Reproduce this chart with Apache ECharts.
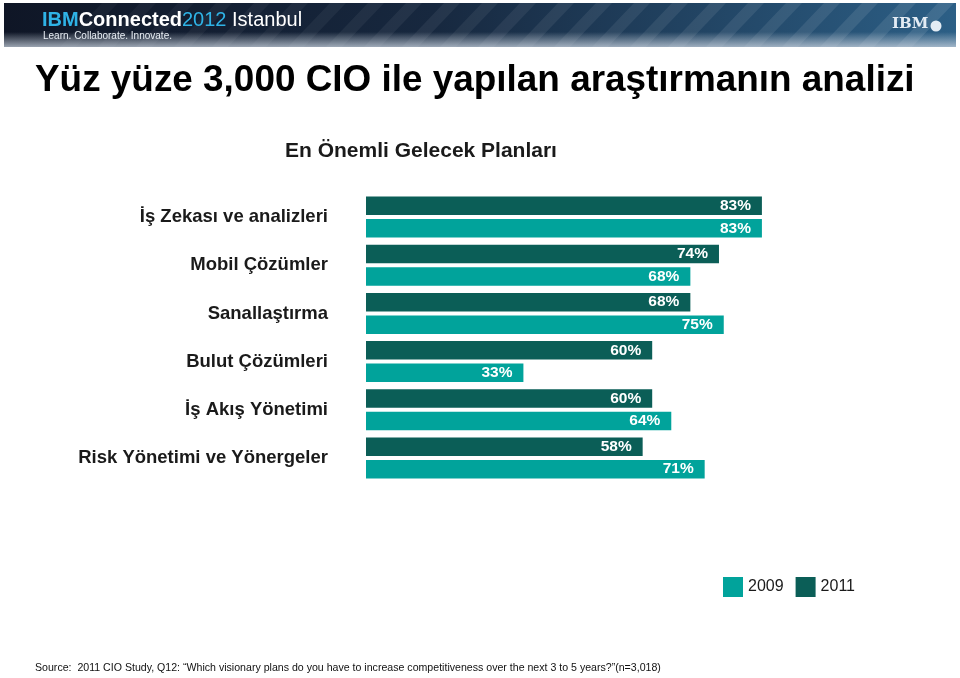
<!DOCTYPE html>
<html>
<head>
<meta charset="utf-8">
<script src="https://cdn.jsdelivr.net/npm/echarts@6/dist/echarts.min.js"></script>
<style>html,body{margin:0;padding:0;background:#fff}#c{width:960px;height:678px}</style>
</head>
<body>
<div id="c"></div>
<script>
const categories = ['İş Zekası ve analizleri','Mobil Çözümler','Sanallaştırma','Bulut Çözümleri','İş Akış Yönetimi','Risk Yönetimi ve Yönergeler'];
const values2011 = [83, 74, 68, 60, 60, 58];
const values2009 = [83, 68, 75, 33, 64, 71];
const legendItems = ['2009', '2011'];

const FONT = '"Liberation Sans", Arial, Helvetica, sans-serif';
const DARK = '#0b5e57';
const LIGHT = '#01a39b';

const chart = echarts.init(document.getElementById('c'), null, {renderer: 'canvas'});

// decorative banner stripes
const stripes = [];
for (let x = 60; x < 900; x += 38) {
  const a = 0.03 + 0.07 * (x / 900);
  stripes.push({
    type: 'polygon', silent: true,
    shape: {points: [[x, 47], [x + 16, 47], [x + 58, 3], [x + 42, 3]]},
    style: {fill: 'rgba(255,255,255,' + a.toFixed(3) + ')'}
  });
}

const option = {
  backgroundColor: '#ffffff',
  animation: false,
  textStyle: {fontFamily: FONT},
  graphic: [
    {type: 'rect', silent: true, shape: {x: 4, y: 3, width: 952, height: 44},
     style: {fill: new echarts.graphic.LinearGradient(0, 0, 1, 0, [
       {offset: 0, color: '#0f1626'}, {offset: 0.45, color: '#17283f'}, {offset: 1, color: '#2c5f86'}])}},
    ...stripes,
    {type: 'rect', silent: true, shape: {x: 4, y: 32, width: 952, height: 15},
     style: {fill: new echarts.graphic.LinearGradient(0, 0, 0, 1, [
       {offset: 0, color: 'rgba(200,210,220,0)'}, {offset: 1, color: 'rgba(200,210,222,0.75)'}])}},
    {type: 'text', left: 42, top: 10, silent: true,
     style: {text: '{a|IBM}{b|Connected}{c|2012}{d| Istanbul}', rich: {
       a: {fill: '#2fb3e6', fontSize: 20, fontWeight: 'bold', fontFamily: FONT},
       b: {fill: '#ffffff', fontSize: 20, fontWeight: 'bold', fontFamily: FONT},
       c: {fill: '#2fb3e6', fontSize: 20, fontFamily: FONT},
       d: {fill: '#ffffff', fontSize: 20, fontFamily: FONT}}}},
    {type: 'text', left: 43, top: 31, silent: true,
     style: {text: 'Learn. Collaborate. Innovate.', fill: '#e8eef4', fontSize: 10, fontFamily: FONT}},
    {type: 'text', left: 892, top: 17, silent: true,
     style: {text: 'IBM', fill: '#e4ecf4', fontSize: 15, fontWeight: 'bold', fontFamily: '"DejaVu Serif", serif'}},
    {type: 'circle', silent: true, shape: {cx: 936, cy: 26, r: 5.5}, style: {fill: '#e4ecf4'}},
    {type: 'text', left: 35, top: 62, silent: true,
     style: {text: 'Yüz yüze 3,000 CIO ile yapılan araştırmanın analizi', fill: '#000', fontSize: 36.9, fontWeight: 'bold', fontFamily: FONT}},
    {type: 'text', left: 285, top: 141, silent: true,
     style: {text: 'En Önemli Gelecek Planları', fill: '#1a1a1a', fontSize: 21, fontWeight: 'bold', fontFamily: FONT}},
    {type: 'text', left: 35, top: 663, silent: true,
     style: {text: 'Source:  2011 CIO Study, Q12: “Which visionary plans do you have to increase competitiveness over the next 3 to 5 years?”(n=3,018)', fill: '#111', fontSize: 10.6, fontFamily: FONT}}
  ],
  legend: {
    data: legendItems,
    left: 723, top: 577, padding: 0,
    itemWidth: 20, itemHeight: 20, itemGap: 12,
    icon: 'rect',
    textStyle: {fontSize: 16, color: '#1a1a1a', fontFamily: FONT}
  },
  grid: {left: 366, width: 477, top: 193, height: 289, containLabel: false},
  xAxis: {type: 'value', min: 0, max: 100, show: false, splitLine: {show: false}},
  yAxis: {
    type: 'category', data: categories, inverse: true,
    axisLine: {show: false}, axisTick: {show: false},
    axisLabel: {margin: 38, fontSize: 18.5, fontWeight: 'bold', color: '#1a1a1a', fontFamily: FONT}
  },
  series: [
    {name: '2011', type: 'bar', data: values2011, barWidth: 18.5, barGap: '22%',
     itemStyle: {color: DARK},
     label: {show: true, position: 'insideRight', distance: 11, formatter: '{c}%', color: '#fff', fontSize: 15.5, fontWeight: 'bold', fontFamily: FONT}},
    {name: '2009', type: 'bar', data: values2009, barWidth: 18.5, barGap: '22%',
     itemStyle: {color: LIGHT},
     label: {show: true, position: 'insideRight', distance: 11, formatter: '{c}%', color: '#fff', fontSize: 15.5, fontWeight: 'bold', fontFamily: FONT}}
  ]
};
chart.setOption(option);
</script>
</body>
</html>
